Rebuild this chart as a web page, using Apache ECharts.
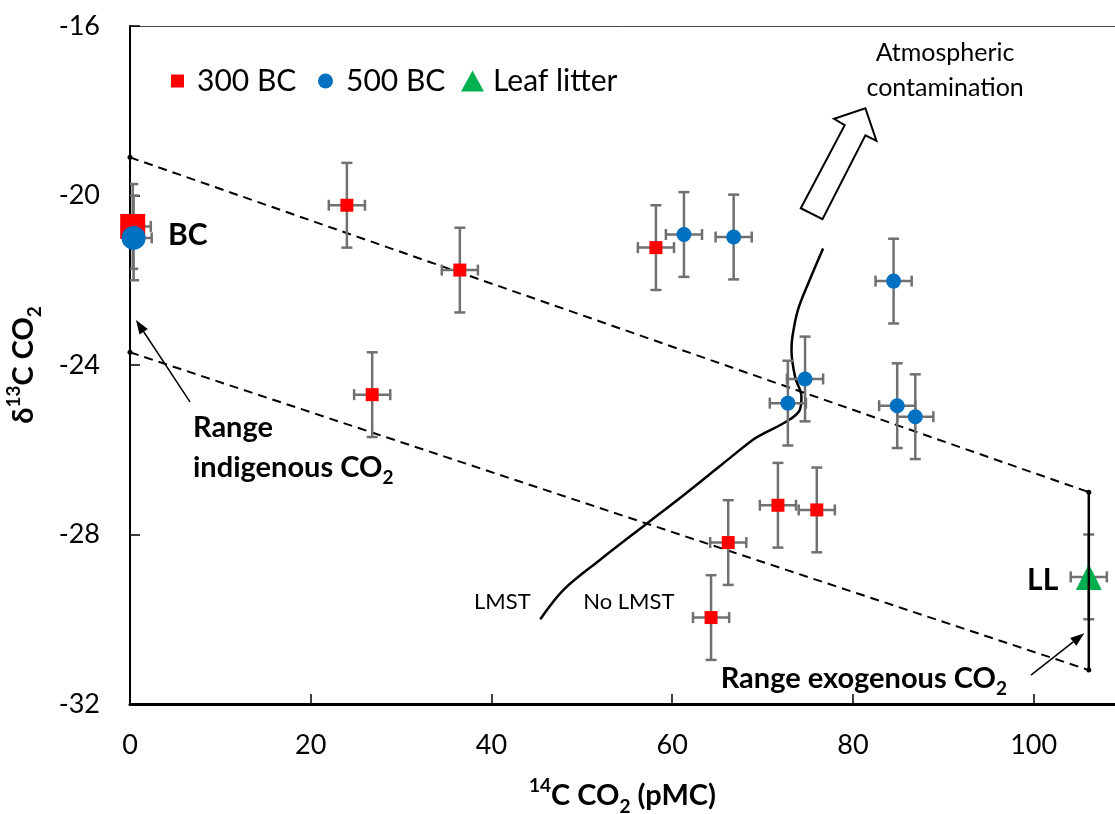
<!DOCTYPE html>
<html>
<head>
<meta charset="utf-8">
<title>14C vs d13C of soil CO2</title>
<script src="https://cdn.jsdelivr.net/npm/echarts@6/dist/echarts.min.js"></script>
<style>
  html, body { margin: 0; padding: 0; background: #fff; }
  #chart { width: 1115px; height: 814px; }
</style>
</head>
<body>
<div id="chart"></div>
<script>
// values: [14C CO2 (pMC), d13C CO2 (permil)]
const pts300 = [[24.0, -20.23], [36.5, -21.76], [26.8, -24.7], [58.2, -21.23],
  [66.2, -28.19], [71.7, -27.31], [76.0, -27.42], [64.3, -29.96]];
const pts500 = [[61.3, -20.92], [66.8, -20.98], [84.5, -22.02], [74.7, -24.33],
  [72.8, -24.9], [84.9, -24.96], [86.9, -25.22]];
const bc300 = [[0.3, -20.73]];
const bc500 = [[0.4, -21.0]];
const leafLitter = [[106.1, -29.0]];
const errX = 2;
const errY = 1;

// mixing lines and ranges
const upperLine = [[0, -19.1], [106.1, -27.0]];
const lowerLine = [[0, -23.7], [106.1, -31.2]];
const exoRange = [[106.1, -27.0], [106.1, -31.2]];
const lmstCurve = [[45.4, -30.0], [48, -29.3], [52, -28.6], [57.2, -27.74], [61.5, -27.03],
  [65.6, -26.33], [68.9, -25.77], [70.1, -25.62], [72.6, -25.34], [74.1, -25.07],
  [74.3, -24.75], [73.6, -24.28], [73.2, -23.65], [73.3, -23.34], [73.9, -22.71],
  [75.2, -22.0], [76.7, -21.25]];
// outline of the hollow "atmospheric contamination" arrow
const atmArrow = [[74.23, -20.30], [79.09, -18.34], [77.91, -18.19], [81.38, -17.94],
  [82.60, -18.71], [81.38, -18.58], [76.63, -20.56]];
// thin pointer arrows: [fromX, fromY, toX, toY]
const pointers = [[6.64, -24.87, 0.66, -22.94], [99.7, -31.32, 105.6, -30.33]];

const xTicks = [0, 20, 40, 60, 80, 100];

const FONT = 'Lato';
const rich = (size, weight) => ({
  n: { fontFamily: FONT, fontSize: size, fontWeight: weight, color: '#000', lineHeight: 40 },
  sup: { fontFamily: FONT, fontSize: Math.round(size * 0.65), fontWeight: weight, color: '#000', lineHeight: 26, verticalAlign: 'top' },
  sub: { fontFamily: FONT, fontSize: Math.round(size * 0.65), fontWeight: weight, color: '#000', lineHeight: 26, verticalAlign: 'bottom' }
});

const notes = [
  { at: [4.2, -20.94], text: 'BC', size: 30, weight: 'bold', align: 'left' },
  { at: [6.97, -25.95], text: '{n|Range}\n{n|indigenous CO}{sub|2}', size: 29, weight: 'bold', align: 'left' },
  { at: [41.2, -29.59], text: 'LMST', size: 22, weight: 'normal', align: 'center' },
  { at: [55.2, -29.59], text: 'No LMST', size: 22, weight: 'normal', align: 'center' },
  { at: [101.0, -29.08], text: 'LL', size: 30, weight: 'bold', align: 'center' },
  { at: [81.2, -31.39], text: '{n|Range exogenous CO}{sub|2}', size: 29, weight: 'bold', align: 'center' },
  { at: [90.2, -17.06], text: 'Atmospheric\ncontamination', size: 25, weight: 'normal', align: 'center', lh: 35 }
];

const withErr = arr => arr.map(p => [p[0], p[1], errX, errY]);

function renderErr(params, api) {
  const x = api.value(0), y = api.value(1), ex = api.value(2), ey = api.value(3);
  const l = api.coord([x - ex, y]), r = api.coord([x + ex, y]);
  const t = api.coord([x, y + ey]), b = api.coord([x, y - ey]);
  const c = 5.5;
  const seg = (x1, y1, x2, y2) => ({
    type: 'line', shape: { x1, y1, x2, y2 },
    style: { stroke: '#707070', lineWidth: 2.5 }
  });
  return {
    type: 'group',
    children: [
      seg(l[0], l[1], r[0], r[1]),
      seg(t[0], t[1], b[0], b[1]),
      seg(l[0], l[1] - c, l[0], l[1] + c),
      seg(r[0], r[1] - c, r[0], r[1] + c),
      seg(t[0] - c, t[1], t[0] + c, t[1]),
      seg(b[0] - c, b[1], b[0] + c, b[1])
    ]
  };
}

function renderArrow(params, api) {
  return {
    type: 'polygon',
    shape: { points: atmArrow.map(p => api.coord(p)) },
    style: { fill: '#fff', stroke: '#000', lineWidth: 2 }
  };
}

function renderPointer(params, api) {
  const a = api.coord([api.value(0), api.value(1)]);
  const b = api.coord([api.value(2), api.value(3)]);
  const dx = b[0] - a[0], dy = b[1] - a[1];
  const len = Math.sqrt(dx * dx + dy * dy);
  const ux = dx / len, uy = dy / len;
  const hl = 14, hw = 5;
  const bx = b[0] - ux * hl, by = b[1] - uy * hl;
  return {
    type: 'group',
    children: [
      { type: 'line', shape: { x1: a[0], y1: a[1], x2: bx, y2: by }, style: { stroke: '#000', lineWidth: 1.5 } },
      { type: 'polygon',
        shape: { points: [b, [bx - uy * hw, by + ux * hw], [bx + uy * hw, by - ux * hw]] },
        style: { fill: '#000' } }
    ]
  };
}

function renderNote(params, api) {
  const nt = notes[params.dataIndex];
  const p = api.coord([api.value(0), api.value(1)]);
  const rs = rich(nt.size, nt.weight);
  rs.n.lineHeight = nt.lh || 40;
  return {
    type: 'text',
    x: p[0], y: p[1],
    style: {
      text: nt.text,
      fontFamily: FONT, fontSize: nt.size, fontWeight: nt.weight, fill: '#000',
      lineHeight: nt.lh || 40,
      align: nt.align, verticalAlign: 'middle',
      rich: rs
    }
  };
}

const chart = echarts.init(document.getElementById('chart'));

const legendBase = {
  top: 61, orient: 'horizontal', selectedMode: false,
  textStyle: { fontFamily: FONT, fontSize: 30, color: '#000', padding: [0, 0, 0, 8] }
};

chart.setOption({
  backgroundColor: '#fff',
  animation: false,
  grid: { left: 130, right: 0, top: 26, bottom: 110, outerBoundsMode: 'none' },
  legend: [
    Object.assign({}, legendBase, { left: 166, itemWidth: 13, itemHeight: 13, data: [{ name: '300 BC', icon: 'rect' }] }),
    Object.assign({}, legendBase, { left: 313, itemWidth: 15, itemHeight: 15, data: [{ name: '500 BC', icon: 'circle' }] }),
    Object.assign({}, legendBase, { left: 456, itemWidth: 23, itemHeight: 21,
      textStyle: Object.assign({}, legendBase.textStyle, { padding: [0, 0, 0, 4] }),
      data: [{ name: 'Leaf litter', icon: 'triangle' }] })
  ],
  xAxis: [{
    type: 'value', min: 0, max: 109, interval: 20,
    axisLine: { onZero: false, lineStyle: { color: '#000', width: 3 } },
    axisTick: { inside: true, length: 10, customValues: xTicks, lineStyle: { color: '#000', width: 1.5 } },
    axisLabel: { customValues: xTicks, margin: 28, fontFamily: FONT, fontSize: 27, color: '#000' },
    splitLine: { show: false },
    name: '{sup|14}{n|C CO}{sub|2}{n| (pMC)}',
    nameLocation: 'middle', nameGap: 72,
    nameTextStyle: { fontFamily: FONT, fontSize: 29, fontWeight: 'bold', color: '#000', rich: rich(29, 'bold') }
  }, {
    type: 'value', position: 'top', min: 0, max: 109, gridIndex: 0,
    axisLine: { onZero: false, lineStyle: { color: '#444', width: 1 } },
    axisTick: { show: false }, axisLabel: { show: false }, splitLine: { show: false }
  }],
  yAxis: {
    type: 'value', min: -32, max: -16, interval: 4,
    axisLine: { show: true, onZero: false, lineStyle: { color: '#000', width: 2 } },
    axisTick: { show: true, inside: true, length: 10, lineStyle: { color: '#000', width: 1.5 } },
    axisLabel: { margin: 30, fontFamily: FONT, fontSize: 27, color: '#000' },
    splitLine: { show: false },
    name: '{n|δ}{sup|13}{n|C CO}{sub|2}',
    nameLocation: 'middle', nameGap: 86, nameRotate: 90,
    nameTextStyle: { fontFamily: FONT, fontSize: 29, fontWeight: 'bold', color: '#000', rich: rich(29, 'bold') }
  },
  series: [
    {
      name: 'upper', type: 'line', data: upperLine, z: 1, silent: true,
      symbol: 'circle', symbolSize: 5, itemStyle: { color: '#000' },
      lineStyle: { color: '#000', width: 2, type: [9, 6] }
    },
    {
      name: 'lower', type: 'line', data: lowerLine, z: 1, silent: true,
      symbol: 'circle', symbolSize: 5, itemStyle: { color: '#000' },
      lineStyle: { color: '#000', width: 2, type: [9, 6] }
    },
    {
      name: 'exogenous range', type: 'line', data: exoRange, z: 5, silent: true,
      symbol: 'none', lineStyle: { color: '#000', width: 2.5 }
    },
    {
      name: 'LMST', type: 'line', data: lmstCurve, z: 1, silent: true,
      symbol: 'none', smooth: 0.35, lineStyle: { color: '#000', width: 2.5 }
    },
    {
      name: 'pointers', type: 'custom', silent: true, z: 2,
      data: pointers, renderItem: renderPointer
    },
    {
      name: 'atm arrow', type: 'custom', silent: true, z: 2,
      data: [atmArrow[0]], renderItem: renderArrow
    },
    {
      name: 'err', type: 'custom', z: 2, silent: true, clip: true,
      encode: { x: 0, y: 1 },
      data: withErr(pts300.concat(pts500, bc300, bc500, leafLitter)),
      renderItem: renderErr
    },
    {
      name: '300 BC', type: 'scatter', data: pts300, z: 3,
      symbol: 'rect', symbolSize: 13, itemStyle: { color: '#ff0000', opacity: 1 }
    },
    {
      name: '500 BC', type: 'scatter', data: pts500, z: 3,
      symbol: 'circle', symbolSize: 15, itemStyle: { color: '#0070c0', opacity: 1 }
    },
    {
      name: 'Leaf litter', type: 'scatter', data: leafLitter, z: 3,
      symbol: 'triangle', symbolSize: 26, itemStyle: { color: '#00b050', opacity: 1 }
    },
    {
      name: 'BC 300', type: 'scatter', data: bc300, z: 3, clip: false,
      symbol: 'rect', symbolSize: 25, itemStyle: { color: '#ff0000', opacity: 1 }
    },
    {
      name: 'BC 500', type: 'scatter', data: bc500, z: 3, clip: false,
      symbol: 'circle', symbolSize: 24, itemStyle: { color: '#0070c0', opacity: 1 }
    },
    {
      name: 'notes', type: 'custom', silent: true, z: 4,
      data: notes.map(nt => nt.at), renderItem: renderNote
    }
  ]
});
</script>
</body>
</html>
